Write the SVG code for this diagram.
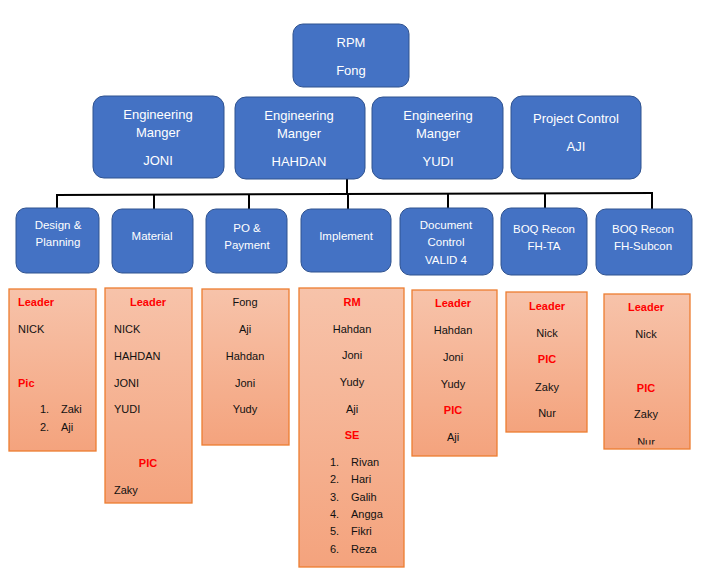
<svg xmlns="http://www.w3.org/2000/svg" width="702" height="573" viewBox="0 0 702 573">
<defs>
<linearGradient id="og" x1="0" y1="0" x2="0" y2="1">
<stop offset="0" stop-color="#F7C3AA"/>
<stop offset="1" stop-color="#F4A37D"/>
</linearGradient>
<clipPath id="c7"><rect x="604" y="294" width="86" height="150.5"/></clipPath>
<style>
.b{fill:#4472C4;stroke:#2F528F;stroke-width:1}
.o{fill:url(#og);stroke:#ED7D31;stroke-width:1.3}
.tw{font-family:"Liberation Sans",Arial,sans-serif;font-size:13px;fill:#fff;text-anchor:middle}
.tr{font-family:"Liberation Sans",Arial,sans-serif;font-size:11.5px;fill:#fff;text-anchor:middle}
.t{font-family:"Liberation Sans",Arial,sans-serif;font-size:11px;fill:#111}
.c{text-anchor:middle}
.r{fill:#FF0000;font-weight:bold}
.ln{stroke:#000;stroke-width:2;fill:none}
</style>
</defs>
<rect width="702" height="573" fill="#fff"/>
<g id="connectors">
<line class="ln" x1="347" y1="179" x2="347" y2="194"/>
<line class="ln" x1="56" y1="195" x2="653" y2="193"/>
<line class="ln" x1="57" y1="195" x2="57" y2="208"/>
<line class="ln" x1="154" y1="194.7" x2="154" y2="209"/>
<line class="ln" x1="249" y1="194.4" x2="249" y2="209"/>
<line class="ln" x1="348" y1="194" x2="348" y2="209"/>
<line class="ln" x1="448" y1="193.7" x2="448" y2="208"/>
<line class="ln" x1="545" y1="193.3" x2="545" y2="208"/>
<line class="ln" x1="652" y1="193" x2="652" y2="209"/>
</g>
<g id="rpm"><rect class="b" x="293" y="24" width="116" height="63" rx="10"/><text class="tw" x="351" y="47">RPM</text><text class="tw" x="351" y="75">Fong</text></g>
<g id="em-joni"><rect class="b" x="93" y="96" width="131" height="82" rx="11"/><text class="tw" x="158" y="119">Engineering</text><text class="tw" x="158" y="137">Manger</text><text class="tw" x="158" y="165">JONI</text></g>
<g id="em-hahdan"><rect class="b" x="235" y="97" width="130" height="82" rx="11"/><text class="tw" x="299" y="120">Engineering</text><text class="tw" x="299" y="138">Manger</text><text class="tw" x="299" y="166">HAHDAN</text></g>
<g id="em-yudi"><rect class="b" x="372" y="97" width="131" height="82" rx="11"/><text class="tw" x="438" y="120">Engineering</text><text class="tw" x="438" y="138">Manger</text><text class="tw" x="438" y="166">YUDI</text></g>
<g id="project-control"><rect class="b" x="511" y="96" width="130" height="83" rx="11"/><text class="tw" x="576" y="123">Project Control</text><text class="tw" x="576" y="151">AJI</text></g>
<g id="design"><rect class="b" x="16" y="208" width="83" height="65" rx="10"/><text class="tr" x="58" y="229">Design &amp;</text><text class="tr" x="58" y="246">Planning</text></g>
<g id="material"><rect class="b" x="112" y="209" width="81" height="64" rx="10"/><text class="tr" x="152" y="240">Material</text></g>
<g id="po"><rect class="b" x="206" y="209" width="81" height="64" rx="10"/><text class="tr" x="247" y="232">PO &amp;</text><text class="tr" x="247" y="249">Payment</text></g>
<g id="implement"><rect class="b" x="301" y="209" width="90" height="63" rx="10"/><text class="tr" x="346" y="240">Implement</text></g>
<g id="doc"><rect class="b" x="400" y="208" width="93" height="67" rx="10"/><text class="tr" x="446" y="229">Document</text><text class="tr" x="446" y="246">Control</text><text class="tr" x="446" y="264">VALID 4</text></g>
<g id="boq-ta"><rect class="b" x="501" y="208" width="86" height="67" rx="10"/><text class="tr" x="544" y="233">BOQ Recon</text><text class="tr" x="544" y="250">FH-TA</text></g>
<g id="boq-sub"><rect class="b" x="596" y="209" width="96" height="66" rx="10"/><text class="tr" x="643" y="233">BOQ Recon</text><text class="tr" x="643" y="250">FH-Subcon</text></g>
<g id="team-design"><rect class="o" x="9" y="289" width="87" height="162"/>
<text class="t r" x="18" y="306">Leader</text><text class="t" x="18" y="333">NICK</text><text class="t r" x="18" y="387">Pic</text>
<text class="t" x="40" y="413">1.</text><text class="t" x="61" y="413">Zaki</text><text class="t" x="40" y="431">2.</text><text class="t" x="61" y="431">Aji</text></g>
<g id="team-material"><rect class="o" x="105" y="288" width="87" height="215"/>
<text class="t r c" x="148" y="306">Leader</text><text class="t" x="114" y="333">NICK</text><text class="t" x="114" y="360">HAHDAN</text><text class="t" x="114" y="387">JONI</text><text class="t" x="114" y="413">YUDI</text><text class="t r c" x="148" y="467">PIC</text><text class="t" x="114" y="494">Zaky</text></g>
<g id="team-po"><rect class="o" x="202" y="289" width="87" height="156"/>
<text class="t c" x="245" y="306">Fong</text><text class="t c" x="245" y="333">Aji</text><text class="t c" x="245" y="360">Hahdan</text><text class="t c" x="245" y="387">Joni</text><text class="t c" x="245" y="413">Yudy</text></g>
<g id="team-implement"><rect class="o" x="299" y="288" width="105" height="279"/>
<text class="t r c" x="352" y="306">RM</text><text class="t c" x="352" y="333">Hahdan</text><text class="t c" x="352" y="359">Joni</text><text class="t c" x="352" y="386">Yudy</text><text class="t c" x="352" y="413">Aji</text><text class="t r c" x="352" y="439">SE</text>
<text class="t" x="330" y="466">1.</text><text class="t" x="351" y="466">Rivan</text>
<text class="t" x="330" y="483">2.</text><text class="t" x="351" y="483">Hari</text>
<text class="t" x="330" y="501">3.</text><text class="t" x="351" y="501">Galih</text>
<text class="t" x="330" y="518">4.</text><text class="t" x="351" y="518">Angga</text>
<text class="t" x="330" y="535">5.</text><text class="t" x="351" y="535">Fikri</text>
<text class="t" x="330" y="553">6.</text><text class="t" x="351" y="553">Reza</text></g>
<g id="team-doc"><rect class="o" x="412" y="290" width="85" height="166"/>
<text class="t r c" x="453" y="307">Leader</text><text class="t c" x="453" y="334">Hahdan</text><text class="t c" x="453" y="361">Joni</text><text class="t c" x="453" y="388">Yudy</text><text class="t r c" x="453" y="414">PIC</text><text class="t c" x="453" y="441">Aji</text></g>
<g id="team-boq-ta"><rect class="o" x="506" y="292" width="81" height="140"/>
<text class="t r c" x="547" y="310">Leader</text><text class="t c" x="547" y="337">Nick</text><text class="t r c" x="547" y="363">PIC</text><text class="t c" x="547" y="391">Zaky</text><text class="t c" x="547" y="417">Nur</text></g>
<g id="team-boq-sub"><rect class="o" x="604" y="294" width="86" height="155"/>
<g clip-path="url(#c7)"><text class="t r c" x="646" y="311">Leader</text><text class="t c" x="646" y="338">Nick</text><text class="t r c" x="646" y="392">PIC</text><text class="t c" x="646" y="418">Zaky</text><text class="t c" x="646" y="445.5">Nur</text></g></g>
</svg>
